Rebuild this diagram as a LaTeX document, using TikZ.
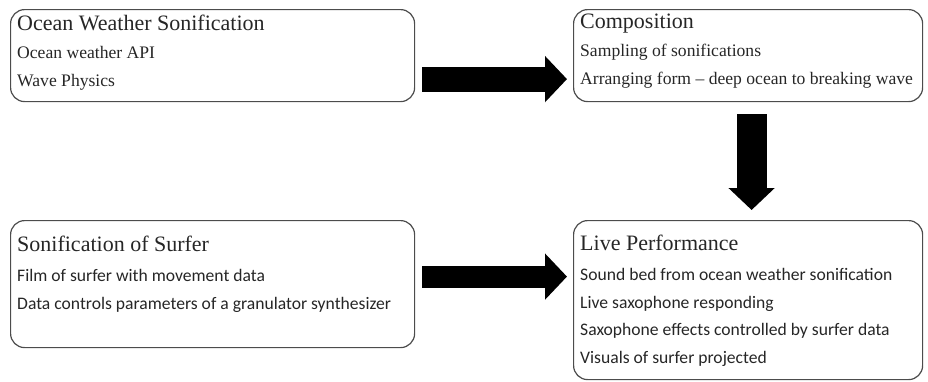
\documentclass[tikz,border=0pt]{standalone}
\usepackage{fontspec}
\setmainfont{Liberation Serif}
\newfontfamily\bodysans{Carlito}
\usepackage{tikz}
\usetikzlibrary{positioning, arrows.meta}

\tikzset{
	stagebox/.style={rectangle, draw=black!70, line width=1.2pt, rounded corners=14pt,
		anchor=north west, inner sep=0pt},
	stagetext/.style={anchor=north west, align=left, inner sep=0pt, text=black!85,
		font=\fontsize{17.6}{28}\selectfont},
	bigarrow/.style={line width=25pt, -{Triangle[width=45pt, length=22pt]}}
}
\newcommand{\stagetitle}[1]{{\fontsize{22}{26}\selectfont #1}}

\begin{document}
\begin{tikzpicture}[x=1pt, y=1pt]
	\useasboundingbox (0,0) rectangle (928,-381);
	% boxes
	\node[stagebox, minimum width=404pt, minimum height=92pt] (ocean) at (10,-9) {};
	\node[stagebox, minimum width=349pt, minimum height=92pt] (comp) at (573,-9) {};
	\node[stagebox, minimum width=404pt, minimum height=127pt] (surfer) at (10,-220) {};
	\node[stagebox, minimum width=349pt, minimum height=159pt] (live) at (573,-220) {};
	% texts
	\node[stagetext, below right=5.5pt and 7pt of ocean.north west] (ocean-txt)
		{\stagetitle{Ocean Weather Sonification}\\
		Ocean weather API\\
		Wave Physics};
	\node[stagetext, below right=5pt and 7pt of comp.north west] (comp-txt)
		{\stagetitle{Composition}\\
		Sampling of sonifications\\
		Arranging form -- deep ocean to breaking wave};
	\node[stagetext, below right=15.5pt and 7pt of surfer.north west] (surfer-txt)
		{\stagetitle{Sonification of Surfer}\\[2pt]
		{\bodysans Film of surfer with movement data}\\
		{\bodysans Data controls parameters of a granulator synthesizer}};
	\node[stagetext, below right=15pt and 7pt of live.north west,
		font=\fontsize{17.6}{27.5}\selectfont] (live-txt)
		{\stagetitle{Live Performance}\\[2.5pt]
		{\bodysans Sound bed from ocean weather sonification}\\
		{\bodysans Live saxophone responding}\\
		{\bodysans Saxophone effects controlled by surfer data}\\
		{\bodysans Visuals of surfer projected}};
	% arrows
	\draw[bigarrow] ([xshift=7pt, yshift=-23.5pt]ocean.east) -- ([xshift=-6pt, yshift=-23.5pt]comp.west);
	\draw[bigarrow, line width=30pt] ([xshift=3.5pt, yshift=-12pt]comp.south) -- ([xshift=3.5pt, yshift=10pt]live.north);
	\draw[bigarrow, line width=22pt] ([xshift=7pt, yshift=7.5pt]surfer.east) -- ([xshift=-6pt, yshift=23.5pt]live.west);
\end{tikzpicture}
\end{document}
